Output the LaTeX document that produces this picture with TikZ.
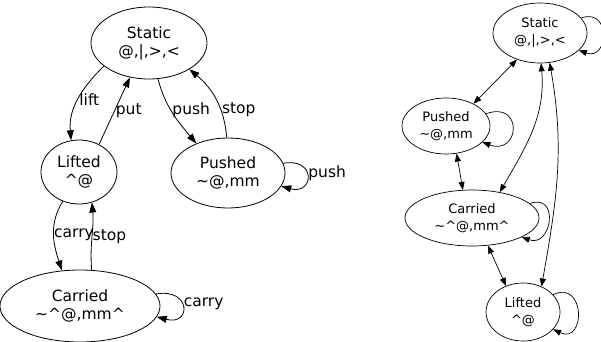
\documentclass[tikz,border=0pt]{standalone}
\usepackage{fontspec}
\setmainfont{DejaVu Sans}
\usetikzlibrary{shapes.geometric, arrows.meta}
\tikzset{every picture/.style = {x=1pt, y=1pt}}
\tikzset{big/.style = {draw, ellipse, line width=0.8pt, inner sep=0, align=center, font=\fontsize{15.5}{18}\selectfont}}
\tikzset{small/.style = {draw, ellipse, line width=0.7pt, inner sep=0, align=center, font=\fontsize{13}{17}\selectfont}}
\tikzset{arc/.style = {-{Triangle[length=10pt, width=7pt]}, line width=0.8pt}}
\tikzset{arcs/.style = {-{Triangle[length=8pt, width=6pt]}, line width=0.7pt}}
\tikzset{both/.style = {{Triangle[length=8pt, width=6pt]}-{Triangle[length=8pt, width=6pt]}, line width=0.7pt}}
\tikzset{lbl/.style = {font=\fontsize{15.5}{18}\selectfont, inner sep=1pt}}

\begin{document}
\begin{tikzpicture}
  \useasboundingbox (0, 0) rectangle (601, 341);
  % left graph
  \node[big, minimum width=116, minimum height=72] (sStatic) at (149, 298) {Static\\@,|,>,<};
  \node[big, minimum width=76, minimum height=64] (sLifted) at (79, 169) {Lifted\\\textasciicircum@};
  \node[big, minimum width=114, minimum height=70] (sPushed) at (228, 168) {Pushed\\\textasciitilde@,mm};
  \node[big, minimum width=160, minimum height=72] (sCarried) at (80, 35) {Carried\\\textasciitilde\textasciicircum@,mm\textasciicircum};
  \draw[arc] (sStatic.207) to[out=225, in=95] node[lbl, right] (lLift) {lift} (sLifted.104);
  \draw[arc] (sLifted.54) -- node[lbl, right] (lPut) {put} (sStatic.241);
  \draw[arc] (sStatic.284) to[out=-75, in=130] node[lbl, right, pos=0.45] (lPush) {push} (sPushed.137);
  \draw[arc] (sPushed.92) to[out=95, in=-40] node[lbl, right, pos=0.35] (lStop) {stop} (sStatic.327);
  \draw[arc] (sPushed.10) to[out=10, in=-15, distance=34pt] node[lbl, right, pos=0.45] (lPushSelf) {push} (sPushed.346);
  \draw[arc] (sLifted.241) to[out=238, in=108] node[lbl, right, inner sep=0] (lCarry) {carry} (sCarried.117);
  \draw[arc] (sCarried.72) to[out=95, in=-85] node[lbl, right, inner sep=0.5pt] (lStopC) {stop} (sLifted.293);
  \draw[arc] (sCarried.9) to[out=10, in=-15, distance=36pt] node[lbl, right, pos=0.45] (lCarrySelf) {carry} (sCarried.352);
  % right graph
  \node[small, minimum width=94, minimum height=60] (rStatic) at (540, 308) {Static\\@,|,>,<};
  \node[small, minimum width=88, minimum height=56] (rPushed) at (446, 215) {Pushed\\\textasciitilde@,mm};
  \node[small, minimum width=134, minimum height=56] (rCarried) at (472, 123) {Carried\\\textasciitilde\textasciicircum@,mm\textasciicircum};
  \node[small, minimum width=74, minimum height=58] (rLifted) at (523, 29) {Lifted\\\textasciicircum@};
  \draw[both] (rStatic.229) -- (rPushed.39);
  \draw[both] (rPushed.291) -- (rCarried.108);
  \draw[both] (rStatic.272) to[out=-85, in=60] (rCarried.43);
  \draw[both] (rStatic.288) to[out=-80, in=80] (rLifted.54);
  \draw[both] (rCarried.300) -- (rLifted.123);
  \draw[arcs] (rStatic.20) to[out=20, in=-20, distance=32pt] (rStatic.336);
  \draw[arcs] (rPushed.17) to[out=20, in=-20, distance=40pt] (rPushed.336);
  \draw[arcs] (rCarried.14) to[out=20, in=-20, distance=32pt] (rCarried.339);
  \draw[arcs] (rLifted.30) to[out=25, in=-25, distance=36pt] (rLifted.330);
\end{tikzpicture}
\end{document}
